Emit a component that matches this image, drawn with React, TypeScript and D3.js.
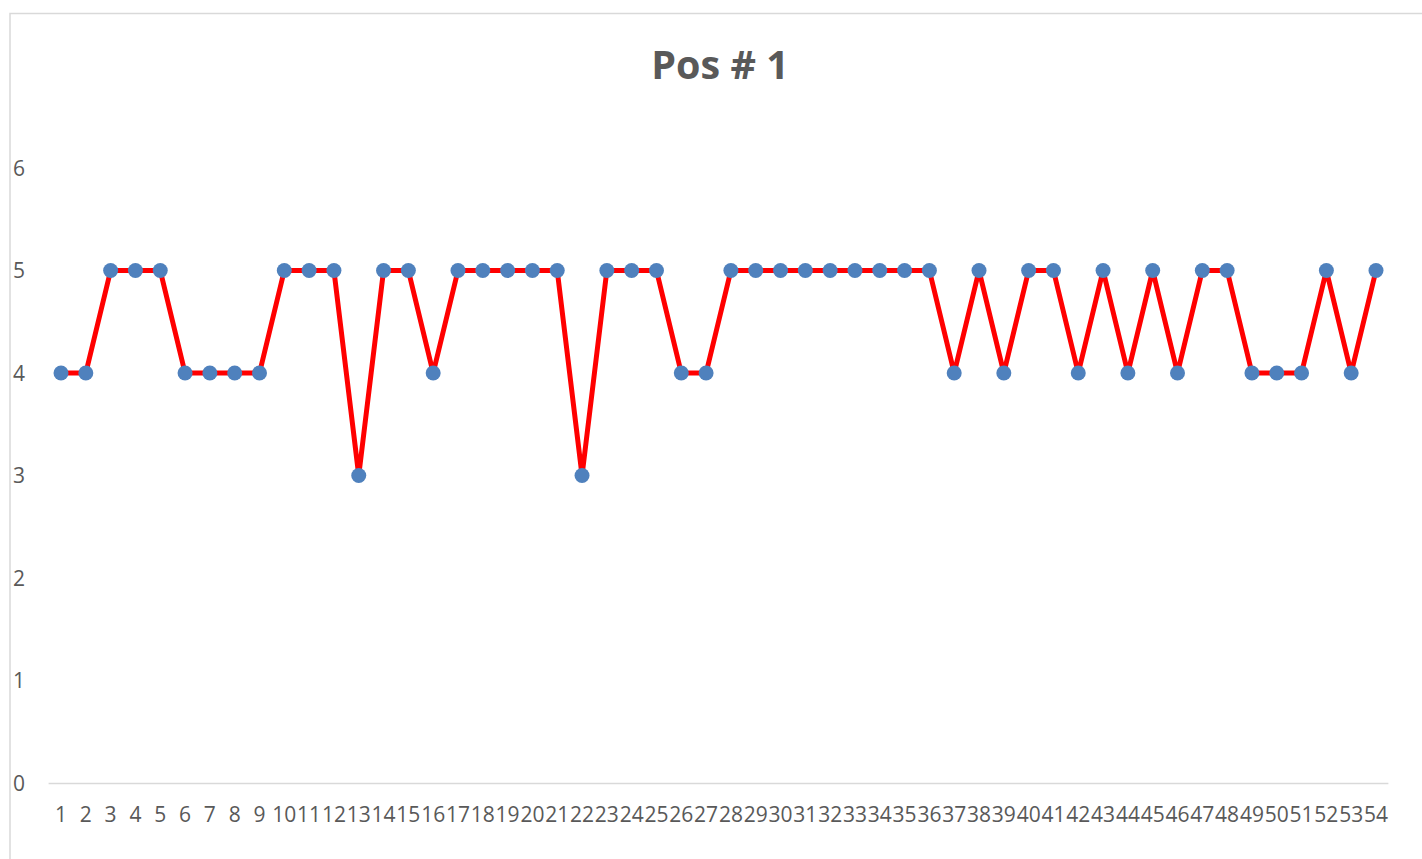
import React from "react";
import * as d3 from "d3";

const categories = Array.from({ length: 54 }, (_, i) => String(i + 1));
const values = [
  4, 4, 5, 5, 5, 4, 4, 4, 4, 5, 5, 5, 3, 5, 5, 4, 5, 5, 5, 5, 5, 3, 5, 5, 5, 4, 4,
  5, 5, 5, 5, 5, 5, 5, 5, 5, 4, 5, 4, 5, 5, 4, 5, 4, 5, 4, 5, 5, 4, 4, 4, 5, 4, 5,
];
const yTicks = [0, 1, 2, 3, 4, 5, 6];
const title = "Pos # 1";

export default function App() {
  const W = 1422;
  const H = 859;
  const x = d3.scaleBand<string>().domain(categories).range([48.6, 1388.4]);
  const y = d3.scaleLinear().domain([0, 6]).range([783, 168]);
  const cx = (i: number) => (x(categories[i]) as number) + x.bandwidth() / 2;
  const line = d3
    .line<number>()
    .x((_, i) => cx(i))
    .y((d) => y(d));
  const font = "'Open Sans', sans-serif";
  return (
    <svg
      width={W}
      height={H}
      style={{ position: "absolute", left: 0, top: 0, background: "#fff" }}
    >
      <rect x={10} y={13.5} width={1430} height={900} fill="#fff" stroke="#d9d9d9" strokeWidth={1.5} />
      <text x={720} y={79} textAnchor="middle" fontFamily={font} fontWeight={700} fontSize={39.5} fill="#595959">
        {title}
      </text>
      {yTicks.map((t) => (
        <text key={t} x={13} y={y(t) + 7.5} fontFamily={font} fontSize={21} fill="#595959">
          {t}
        </text>
      ))}
      <line x1={48.6} x2={1388.4} y1={783.5} y2={783.5} stroke="#d9d9d9" strokeWidth={1.5} />
      {categories.map((c, i) => (
        <text key={c} x={cx(i)} y={822} textAnchor="middle" fontFamily={font} fontSize={21} fill="#595959">
          {c}
        </text>
      ))}
      <path d={line(values) || ""} fill="none" stroke="#ff0000" strokeWidth={5} strokeLinejoin="round" />
      {values.map((v, i) => (
        <circle key={i} cx={cx(i)} cy={y(v)} r={7.5} fill="#4f81bd" />
      ))}
    </svg>
  );
}
